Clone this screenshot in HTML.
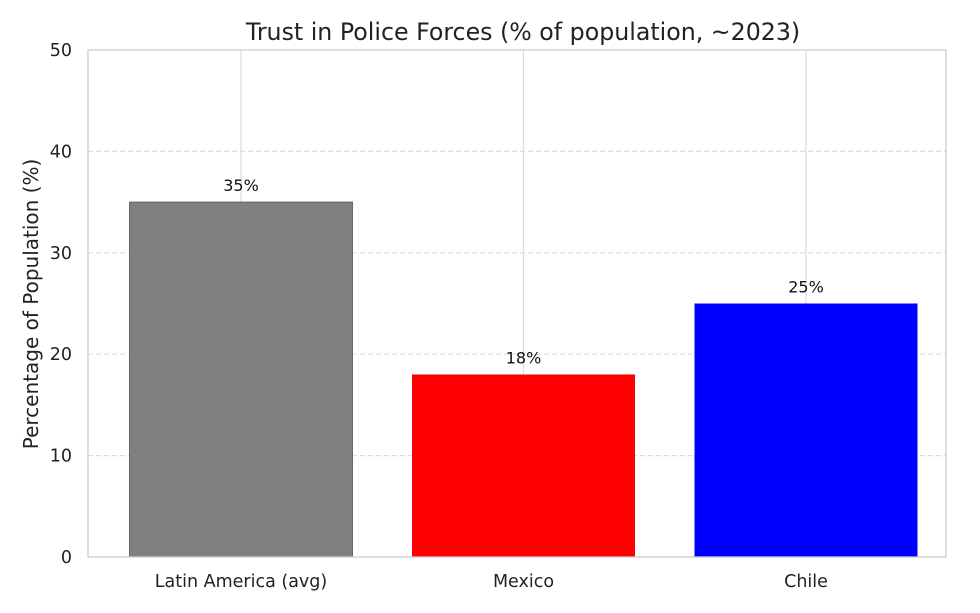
<!DOCTYPE html>
<html><head><meta charset="utf-8">
<style>
body{margin:0;background:#fff;}
svg{display:block;font-family:"DejaVu Sans","Liberation Sans",sans-serif;}
</style></head>
<body>
<svg id="chart" width="980" height="613" viewBox="0 0 980 613">
<rect x="0" y="0" width="980" height="613" fill="#fff"/>
<text x="523" y="40" font-size="23.7" text-anchor="middle" fill="#222">Trust in Police Forces (% of population, ~2023)</text>
<text transform="translate(38,304) rotate(-90)" font-size="20" text-anchor="middle" fill="#222">Percentage of Population (%)</text>
<g id="grid"></g><g id="bars"></g><g id="labels"></g><g id="ticks"></g>
<rect x="88" y="50" width="858" height="507" fill="none" stroke="#cccccc" stroke-width="1.3"/>
</svg>
<script>
const categories = ["Latin America (avg)", "Mexico", "Chile"];
const values = [35, 18, 25];
const colors = ["#808080", "#ff0000", "#0000ff"];
const yTicks = [0, 10, 20, 30, 40, 50];

(function(){
const NS = "http://www.w3.org/2000/svg";
const plotLeft = 88, plotRight = 946, plotTop = 50, plotBottom = 557, yMax = 50;
const step = 282.5, first = 241, barW = 223;
function y(v){ return plotBottom - (v / yMax) * (plotBottom - plotTop); }
function x(i){ return first + i * step; }
function mk(tag, attrs, parent, text){
  const e = document.createElementNS(NS, tag);
  for (const k in attrs) e.setAttribute(k, attrs[k]);
  if (text !== undefined) e.textContent = text;
  document.getElementById(parent).appendChild(e);
  return e;
}
yTicks.forEach(t => {
  if (t > 0 && t < yMax) {
    const g = mk("line", {x1: plotLeft, x2: plotRight, y1: y(t), y2: y(t), stroke: "#dddddd", "stroke-width": 1.2, "stroke-dasharray": "5,3"}, "grid");
    
    
  }
  const l = mk("text", {x: 72, y: y(t) + 6, "font-size": 17.5, "text-anchor": "end", fill: "#222"}, "ticks", String(t));
  
  
});
categories.forEach((c, i) => {
  const g = mk("line", {x1: x(i), x2: x(i), y1: plotTop, y2: plotBottom, stroke: "#dddddd", "stroke-width": 1.2}, "grid");
  
  
  const b = mk("rect", {x: x(i) - barW / 2, y: y(values[i]), width: barW, height: plotBottom - y(values[i]), fill: colors[i], stroke: i === 0 ? "#666" : "none", "stroke-width": 1}, "bars");
  
  
  const v = mk("text", {x: x(i), y: y(values[i]) - 11, "font-size": 16, "text-anchor": "middle", fill: "#111"}, "labels", values[i] + "%");
  
  
  const t = mk("text", {x: x(i), y: 587, "font-size": 17.5, "text-anchor": "middle", fill: "#222"}, "ticks", c);
  
  
});
})();
</script>
</body></html>
